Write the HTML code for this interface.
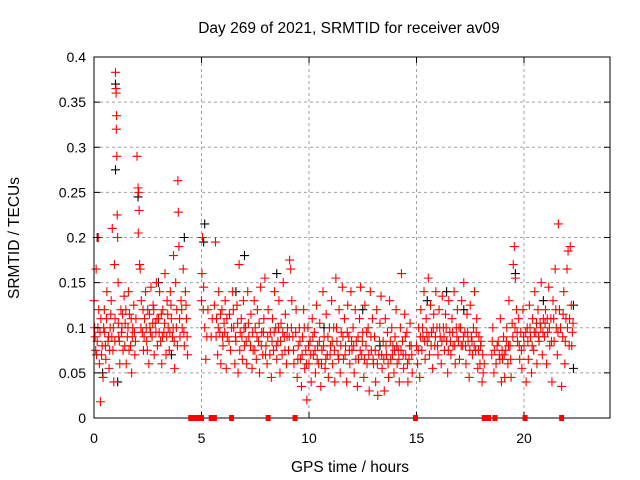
<!DOCTYPE html>
<html><head><meta charset="utf-8"><style>
html,body{margin:0;padding:0;background:#fff;}
svg{display:block;font-family:"Liberation Sans",sans-serif;}
</style></head><body>
<svg id="chart" width="640" height="480" xmlns="http://www.w3.org/2000/svg">
<rect x="0" y="0" width="640" height="480" fill="#fff"/>
<g id="grid"></g>
<g id="black"></g>
<g id="red"></g>
<g id="axes"></g>
<g id="gaps"></g>
<text x="349" y="33" text-anchor="middle" font-size="15.5">Day 269 of 2021, SRMTID for receiver av09</text>
<text x="350" y="472" text-anchor="middle" font-size="15.5">GPS time / hours</text>
<text transform="translate(19,238) rotate(-90)" text-anchor="middle" font-size="15.5">SRMTID / TECUs</text>
</svg>
<script>
const xTicks=[0,5,10,15,20];
const yTicks=[0,0.05,0.1,0.15,0.2,0.25,0.3,0.35,0.4];
const yTickLabels=["0","0.05","0.1","0.15","0.2","0.25","0.3","0.35","0.4"];
const gapTimes=[4.5,4.6,4.7,4.8,4.9,5.0,5.45,5.6,6.4,8.1,9.35,14.95,18.15,18.35,18.65,20.05,21.75];
const blackPoints=[[0.15,0.2],[1.0,0.37],[1.0,0.275],[1.1,0.04],[2.05,0.245],[3.0,0.15],[4.2,0.2],[5.1,0.195],[5.15,0.215],[7.0,0.18],[8.5,0.16],[10.7,0.1],[12.5,0.12],[15.5,0.13],[17.2,0.12],[22.3,0.055],[22.3,0.125],[0.4,0.05],[3.6,0.07],[6.6,0.14],[13.3,0.08],[16.4,0.14],[19.6,0.16],[20.9,0.13]];
const redPoints=[
[0.0,0.13],[0.05,0.09],[0.1,0.165],[0.12,0.07],[0.18,0.1],[0.2,0.2],[0.25,0.06],[0.3,0.018],[0.32,0.11],[0.38,0.08],[0.42,0.045],[0.48,0.12],[0.5,0.095],[0.55,0.065],[0.6,0.14],[0.65,0.085],[0.7,0.055],[0.75,0.1],[0.8,0.13],[0.85,0.21],[0.88,0.075],[0.92,0.04],[0.95,0.17],[0.98,0.11],
[1.0,0.383],[1.02,0.365],[1.03,0.36],[1.05,0.335],[1.04,0.32],[1.06,0.29],[1.08,0.225],[1.1,0.2],[1.12,0.15],[1.15,0.09],[1.2,0.06],[1.25,0.12],[1.3,0.1],[1.35,0.075],[1.4,0.135],[1.45,0.105],[1.5,0.06],[1.55,0.09],[1.6,0.14],[1.65,0.115],[1.7,0.08],[1.75,0.05],[1.8,0.1],[1.85,0.125],[1.9,0.07],[1.95,0.11],
[2.0,0.29],[2.05,0.255],[2.08,0.25],[2.1,0.23],[2.06,0.205],[2.12,0.17],[2.15,0.165],[2.2,0.13],[2.25,0.095],[2.3,0.075],[2.35,0.11],[2.4,0.14],[2.45,0.085],[2.5,0.12],[2.55,0.06],[2.6,0.1],[2.65,0.145],[2.7,0.09],[2.75,0.125],[2.8,0.07],[2.85,0.105],[2.9,0.15],[2.95,0.08],
[3.0,0.11],[3.05,0.14],[3.1,0.085],[3.15,0.06],[3.2,0.12],[3.25,0.095],[3.3,0.16],[3.35,0.07],[3.4,0.13],[3.45,0.1],[3.5,0.075],[3.55,0.14],[3.6,0.11],[3.65,0.09],[3.7,0.18],[3.75,0.055],[3.8,0.15],[3.85,0.12],[3.9,0.263],[3.92,0.228],[3.95,0.19],[4.0,0.09],[4.05,0.13],[4.1,0.1],[4.15,0.165],[4.2,0.08],[4.25,0.14],[4.3,0.11],[4.35,0.07],
[5.0,0.13],[5.02,0.16],[5.05,0.2],[5.1,0.145],[5.15,0.1],[5.2,0.065],[5.3,0.12],[5.45,0.09],[5.6,0.125],[5.65,0.195],[5.7,0.11],[5.75,0.07],[5.8,0.14],[5.85,0.095],[5.9,0.06],[5.95,0.12],
[6.0,0.08],[6.05,0.105],[6.1,0.13],[6.15,0.055],[6.2,0.09],[6.3,0.115],[6.35,0.075],[6.45,0.14],[6.5,0.1],[6.55,0.06],[6.6,0.085],[6.65,0.125],[6.7,0.05],[6.75,0.17],[6.8,0.095],[6.85,0.11],[6.9,0.065],[6.95,0.13],
[7.0,0.08],[7.05,0.1],[7.1,0.06],[7.15,0.14],[7.2,0.09],[7.3,0.115],[7.35,0.055],[7.4,0.075],[7.45,0.13],[7.5,0.1],[7.55,0.065],[7.6,0.12],[7.65,0.085],[7.7,0.05],[7.75,0.145],[7.8,0.095],[7.85,0.07],[7.9,0.11],[7.95,0.155],
[8.0,0.08],[8.05,0.06],[8.1,0.12],[8.2,0.095],[8.25,0.045],[8.3,0.11],[8.35,0.075],[8.4,0.14],[8.45,0.1],[8.5,0.065],[8.55,0.085],[8.6,0.13],[8.65,0.05],[8.7,0.105],[8.75,0.07],[8.8,0.15],[8.85,0.09],[8.9,0.115],[8.95,0.06],
[9.0,0.1],[9.05,0.075],[9.1,0.175],[9.15,0.165],[9.2,0.13],[9.25,0.09],[9.3,0.06],[9.4,0.12],[9.45,0.045],[9.5,0.08],[9.55,0.1],[9.6,0.065],[9.65,0.035],[9.7,0.09],[9.75,0.12],[9.8,0.055],[9.85,0.075],[9.9,0.02],[9.95,0.1],
[10.0,0.06],[10.05,0.085],[10.1,0.04],[10.15,0.11],[10.2,0.07],[10.25,0.095],[10.3,0.05],[10.35,0.125],[10.4,0.08],[10.45,0.06],[10.5,0.105],[10.55,0.035],[10.6,0.075],[10.65,0.14],[10.7,0.09],[10.75,0.055],[10.8,0.115],[10.85,0.07],[10.9,0.045],[10.95,0.1],
[11.0,0.08],[11.05,0.13],[11.1,0.06],[11.15,0.1],[11.2,0.04],[11.25,0.155],[11.3,0.085],[11.35,0.07],[11.4,0.12],[11.45,0.05],[11.5,0.095],[11.55,0.145],[11.6,0.065],[11.65,0.11],[11.7,0.08],[11.75,0.04],[11.8,0.125],[11.85,0.09],[11.9,0.06],[11.95,0.14],
[12.0,0.075],[12.05,0.1],[12.1,0.05],[12.15,0.12],[12.2,0.085],[12.25,0.035],[12.3,0.065],[12.35,0.11],[12.4,0.145],[12.45,0.07],[12.5,0.095],[12.55,0.045],[12.6,0.125],[12.65,0.08],[12.7,0.06],[12.75,0.1],[12.8,0.03],[12.85,0.14],[12.9,0.075],[12.95,0.11],
[13.0,0.06],[13.05,0.09],[13.1,0.04],[13.15,0.12],[13.2,0.025],[13.25,0.07],[13.3,0.105],[13.35,0.135],[13.4,0.055],[13.45,0.085],[13.5,0.03],[13.55,0.11],[13.6,0.07],[13.65,0.095],[13.7,0.045],[13.75,0.13],[13.8,0.065],[13.85,0.1],[13.9,0.08],[13.95,0.05],
[14.0,0.09],[14.05,0.12],[14.1,0.06],[14.15,0.075],[14.2,0.04],[14.25,0.1],[14.3,0.16],[14.35,0.085],[14.4,0.055],[14.45,0.115],[14.5,0.07],[14.55,0.095],[14.6,0.04],[14.65,0.065],[14.7,0.105],[14.75,0.08],[14.8,0.05],
[15.0,0.08],[15.05,0.06],[15.1,0.1],[15.15,0.045],[15.2,0.12],[15.25,0.075],[15.3,0.09],[15.35,0.14],[15.4,0.065],[15.45,0.11],[15.5,0.085],[15.55,0.155],[15.6,0.07],[15.65,0.125],[15.7,0.095],[15.75,0.055],[15.8,0.115],[15.85,0.08],[15.9,0.14],[15.95,0.1],
[16.0,0.07],[16.05,0.12],[16.1,0.09],[16.15,0.06],[16.2,0.135],[16.25,0.1],[16.3,0.075],[16.35,0.115],[16.4,0.085],[16.45,0.05],[16.5,0.13],[16.55,0.095],[16.6,0.07],[16.65,0.11],[16.7,0.08],[16.75,0.14],[16.8,0.06],[16.85,0.1],[16.9,0.12],[16.95,0.085],
[17.0,0.065],[17.05,0.1],[17.1,0.13],[17.15,0.08],[17.2,0.15],[17.25,0.095],[17.3,0.06],[17.35,0.115],[17.4,0.085],[17.45,0.045],[17.5,0.125],[17.55,0.09],[17.6,0.07],[17.65,0.1],[17.7,0.14],[17.75,0.075],[17.8,0.11],[17.85,0.055],[17.9,0.09],[17.95,0.06],
[18.0,0.085],[18.05,0.04],[18.15,0.06],[18.5,0.07],[18.55,0.1],[18.6,0.05],[18.7,0.06],[18.8,0.085],[18.85,0.07],[18.9,0.11],[18.95,0.04],
[19.0,0.065],[19.05,0.09],[19.1,0.045],[19.15,0.075],[19.2,0.1],[19.25,0.06],[19.3,0.13],[19.35,0.08],[19.4,0.045],[19.45,0.105],[19.5,0.17],[19.55,0.19],[19.6,0.155],[19.65,0.12],[19.7,0.085],[19.75,0.11],[19.8,0.065],[19.85,0.095],[19.9,0.055],[19.95,0.12],
[20.0,0.08],[20.1,0.04],[20.15,0.1],[20.2,0.065],[20.25,0.125],[20.3,0.09],[20.35,0.05],[20.4,0.11],[20.45,0.075],[20.5,0.14],[20.55,0.095],[20.6,0.06],[20.65,0.12],[20.7,0.085],[20.75,0.105],[20.8,0.15],[20.85,0.07],[20.9,0.11],[20.95,0.09],
[21.0,0.12],[21.05,0.06],[21.1,0.095],[21.15,0.145],[21.2,0.08],[21.25,0.11],[21.3,0.04],[21.35,0.13],[21.4,0.085],[21.45,0.165],[21.5,0.1],[21.55,0.07],[21.6,0.215],[21.65,0.12],[21.75,0.035],[21.8,0.09],[21.85,0.14],[21.9,0.06],[21.95,0.11],[22.0,0.165],[22.05,0.185],[22.1,0.08],[22.15,0.19],[22.2,0.125],[22.25,0.095]
];
const redExtra=[
[0.03,0.1],[0.08,0.075],[0.15,0.085],[0.22,0.12],[0.28,0.095],[0.35,0.07],[0.45,0.1],[0.53,0.08],[0.58,0.11],[0.68,0.09],[0.73,0.075],[0.78,0.115],[0.83,0.09],[0.9,0.1],[0.97,0.085],
[1.13,0.105],[1.18,0.085],[1.28,0.095],[1.33,0.115],[1.43,0.08],[1.48,0.12],[1.58,0.1],[1.63,0.075],[1.73,0.11],[1.78,0.09],[1.88,0.095],[1.93,0.085],
[2.18,0.1],[2.28,0.12],[2.33,0.09],[2.43,0.1],[2.48,0.075],[2.58,0.115],[2.63,0.095],[2.73,0.105],[2.78,0.12],[2.88,0.095],[2.93,0.11],
[3.03,0.095],[3.13,0.115],[3.18,0.09],[3.28,0.105],[3.38,0.09],[3.43,0.115],[3.53,0.095],[3.58,0.125],[3.68,0.1],[3.73,0.085],[3.83,0.1],[3.88,0.08],[3.98,0.11],[4.08,0.12],[4.18,0.095],[4.28,0.125],[4.33,0.09],
[5.08,0.12],[5.25,0.09],[5.5,0.11],[5.68,0.09],[5.78,0.1],[5.88,0.115],[5.98,0.09],
[6.08,0.095],[6.18,0.11],[6.28,0.085],[6.4,0.1],[6.48,0.12],[6.58,0.09],[6.68,0.105],[6.78,0.075],[6.88,0.09],[6.98,0.1],
[7.08,0.085],[7.18,0.105],[7.28,0.08],[7.38,0.095],[7.48,0.075],[7.58,0.09],[7.68,0.105],[7.78,0.08],[7.88,0.095],[7.98,0.07],
[8.08,0.09],[8.18,0.07],[8.28,0.085],[8.38,0.095],[8.48,0.08],[8.58,0.1],[8.68,0.085],[8.78,0.095],[8.88,0.075],[8.98,0.09],
[9.08,0.09],[9.18,0.1],[9.28,0.075],[9.38,0.095],[9.48,0.065],[9.58,0.085],[9.68,0.07],[9.78,0.1],[9.88,0.06],[9.98,0.08],
[10.08,0.07],[10.18,0.09],[10.28,0.075],[10.38,0.065],[10.48,0.085],[10.58,0.06],[10.68,0.08],[10.78,0.065],[10.88,0.09],[10.98,0.07],
[11.08,0.085],[11.18,0.075],[11.28,0.1],[11.38,0.065],[11.48,0.08],[11.58,0.09],[11.68,0.07],[11.78,0.095],[11.88,0.075],[11.98,0.085],
[12.08,0.08],[12.18,0.065],[12.28,0.09],[12.38,0.075],[12.48,0.085],[12.58,0.065],[12.68,0.095],[12.78,0.07],[12.88,0.09],[12.98,0.065],
[13.08,0.075],[13.18,0.06],[13.28,0.085],[13.38,0.07],[13.48,0.065],[13.58,0.08],[13.68,0.06],[13.78,0.085],[13.88,0.07],[13.98,0.075],
[14.08,0.08],[14.18,0.065],[14.28,0.075],[14.38,0.07],[14.48,0.09],[14.58,0.06],[14.68,0.08],[14.78,0.07],
[15.08,0.075],[15.18,0.09],[15.28,0.1],[15.38,0.085],[15.48,0.095],[15.58,0.09],[15.68,0.08],[15.78,0.1],[15.88,0.09],[15.98,0.08],
[16.08,0.1],[16.18,0.085],[16.28,0.09],[16.38,0.1],[16.48,0.075],[16.58,0.085],[16.68,0.095],[16.78,0.08],[16.88,0.09],[16.98,0.1],
[17.08,0.08],[17.18,0.09],[17.28,0.08],[17.38,0.095],[17.48,0.075],[17.58,0.085],[17.68,0.08],[17.78,0.095],[17.88,0.075],[17.98,0.08],
[18.08,0.07],[18.1,0.05],[18.52,0.085],[18.62,0.075],[18.75,0.08],[18.88,0.065],[18.98,0.075],
[19.08,0.07],[19.18,0.085],[19.28,0.08],[19.38,0.065],[19.48,0.09],[19.58,0.1],[19.68,0.095],[19.78,0.08],[19.88,0.075],[19.98,0.09],
[20.08,0.095],[20.18,0.085],[20.28,0.1],[20.38,0.08],[20.48,0.095],[20.58,0.105],[20.68,0.09],[20.78,0.1],[20.88,0.095],[20.98,0.105],
[21.08,0.11],[21.18,0.1],[21.28,0.085],[21.38,0.11],[21.48,0.12],[21.58,0.095],[21.7,0.1],[21.82,0.115],[21.92,0.085],[22.02,0.1],[22.12,0.11],[22.22,0.08],[22.28,0.105]
];
const NS="http://www.w3.org/2000/svg";
const L=94,R=610,T=57,B=418;
const xScale=t=>L+(t/24)*(R-L);
const yScale=v=>B-(v/0.4)*(B-T);
function mk(tag,attrs,parent){const e=document.createElementNS(NS,tag);for(const k in attrs)e.setAttribute(k,attrs[k]);parent.appendChild(e);return e;}
const grid=document.getElementById('grid'),axes=document.getElementById('axes');
yTicks.forEach((v,i)=>{
  const y=yScale(v);
  if(i>0&&i<yTicks.length-1){const g=mk('line',{x1:L,x2:R,y1:y,y2:y,stroke:'#a0a0a0','stroke-dasharray':'3,3','stroke-width':1},grid);
  
  }
  const t=mk('text',{x:L-8,y:y+5,'text-anchor':'end','font-size':14},axes);t.textContent=yTickLabels[i];
  
  
  mk('line',{x1:L,x2:L+6,y1:y,y2:y,stroke:'#000'},axes);
  mk('line',{x1:R-6,x2:R,y1:y,y2:y,stroke:'#000'},axes);
});
xTicks.forEach(v=>{
  const x=xScale(v);
  if(v>0){const g=mk('line',{x1:x,x2:x,y1:T,y2:B,stroke:'#a0a0a0','stroke-dasharray':'3,3','stroke-width':1},grid);
  
  }
  const t=mk('text',{x:x,y:B+25,'text-anchor':'middle','font-size':14},axes);t.textContent=String(v);
  
  
  mk('line',{x1:x,x2:x,y1:B,y2:B-6,stroke:'#000'},axes);
  mk('line',{x1:x,x2:x,y1:T,y2:T+6,stroke:'#000'},axes);
});
const frame=mk('rect',{x:L,y:T,width:R-L,height:B-T,fill:'none',stroke:'#000','stroke-width':1},axes);


function cross(g,t,v,color){
  const x=xScale(t),y=yScale(v);
  const p=mk('path',{d:`M${x-4.5} ${y}H${x+4.5}M${x} ${y-4.5}V${y+4.5}`,stroke:color,'stroke-width':1.1,fill:'none'},g);
  
  
}
const bg=document.getElementById('black'),rg=document.getElementById('red'),gg=document.getElementById('gaps');
blackPoints.forEach(p=>cross(bg,p[0],p[1],'#000'));
redPoints.forEach(p=>cross(rg,p[0],p[1],'#ff0000'));
redExtra.forEach(p=>cross(rg,p[0],p[1],'#ff0000'));
gapTimes.forEach(t=>{
  const r=mk('rect',{x:xScale(t)-2.5,y:B-3,width:5,height:6,fill:'#ff0000'},gg);
  
  
});
</script>
</body></html>
